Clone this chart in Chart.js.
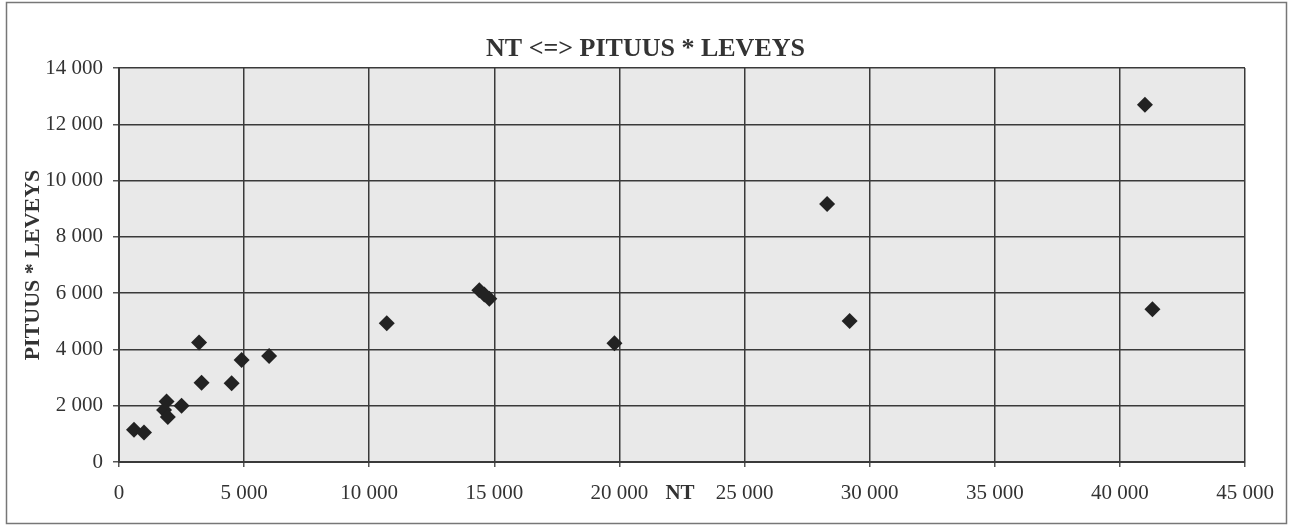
<!DOCTYPE html>
<html>
<head>
<meta charset="utf-8">
<script src="https://cdn.jsdelivr.net/npm/chart.js@4/dist/chart.umd.min.js"></script>
<style>
  html, body { margin: 0; padding: 0; background: #fff; }
  #wrap { position: relative; width: 1291px; height: 525px; }
</style>
</head>
<body>
<div id="wrap"><canvas id="myChart"></canvas></div>
<script>
// NT vs pituus * leveys
var ntValues   = [600, 1000, 1800, 1900, 1950, 2500, 3200, 3300, 4500, 4900, 6000, 10700, 14400, 14600, 14800, 19800, 28300, 29200, 41000, 41300];
var areaValues = [1150, 1050, 1850, 2150, 1600, 2000, 4250, 2820, 2800, 3620, 3770, 4930, 6100, 5950, 5800, 4220, 9170, 5010, 12690, 5430];

var chartTitle = 'NT <=> PITUUS * LEVEYS';
var xTitle = 'NT';
var yTitle = 'PITUUS * LEVEYS';

var points = [];
for (var i = 0; i < ntValues.length; i++) {
    points.push({ x: ntValues[i], y: areaValues[i] });
}

function spaced(v) {
    return String(v).replace(/\B(?=(\d{3})+(?!\d))/g, ' ');
}

var serif = "'Liberation Serif', 'Times New Roman', serif";
var ink = '#333';

// grey plot background, outer frame, title and the inline "NT" label
var decor = {
    id: 'decor',
    beforeDraw: function (chart) {
        var c = chart.ctx, a = chart.chartArea;
        c.save();
        c.fillStyle = '#e9e9e9';
        c.fillRect(a.left, a.top, a.right - a.left, a.bottom - a.top);
        c.restore();
    },
    afterDraw: function (chart) {
        var c = chart.ctx;
        var xs = chart.scales.x;
        c.save();
        c.strokeStyle = '#777';
        c.lineWidth = 1.5;
        c.strokeRect(6.5, 2.5, 1280, 521);
        c.fillStyle = ink;
        c.textAlign = 'center';
        c.textBaseline = 'middle';
        c.font = 'bold 26px ' + serif;
        c.fillText(chartTitle, chart.width / 2, 49);
        c.font = 'bold 21px ' + serif;
        var nx = (xs.getPixelForValue(20000) + xs.getPixelForValue(25000)) / 2;
        c.fillText(xTitle, nx - 2, 494);
        c.restore();
    }
};

var ctx = document.getElementById('myChart').getContext('2d');
var myChart = new Chart(ctx, {
    type: 'scatter',
    data: {
        datasets: [{
            label: yTitle,
            data: points,
            pointStyle: 'rectRot',
            pointRadius: 8,
            pointHoverRadius: 8,
            backgroundColor: '#222',
            borderColor: '#222',
            borderWidth: 0
        }]
    },
    options: {
        responsive: true,
        maintainAspectRatio: false,
        animation: false,
        layout: { padding: { left: 7, right: 46, top: 68, bottom: 0 } },
        plugins: {
            legend: { display: false },
            tooltip: { enabled: false },
            title: { display: false }
        },
        scales: {
            x: {
                type: 'linear',
                min: 0,
                max: 45000,
                afterFit: function (s) { s.height = 63; },
                ticks: {
                    stepSize: 5000,
                    color: ink,
                    padding: 14,
                    maxRotation: 0,
                    font: { family: serif, size: 21 },
                    callback: function (v) { return spaced(v); }
                },
                grid: { color: '#3a3a3a', lineWidth: 1.5, tickLength: 5, tickColor: '#555' },
                border: { color: '#3a3a3a', width: 2 }
            },
            y: {
                min: 0,
                max: 14000,
                afterFit: function (s) { s.width = 112; },
                title: {
                    display: true,
                    text: yTitle,
                    color: ink,
                    font: { family: serif, size: 22, weight: 'bold' },
                    padding: { top: 13, bottom: 0 }
                },
                ticks: {
                    stepSize: 2000,
                    color: ink,
                    padding: 10,
                    font: { family: serif, size: 21 },
                    callback: function (v) { return spaced(v); }
                },
                grid: { color: '#3a3a3a', lineWidth: 1.5, tickLength: 6, tickColor: '#555' },
                border: { color: '#3a3a3a', width: 2 }
            }
        }
    },
    plugins: [decor]
});
</script>
</body>
</html>
